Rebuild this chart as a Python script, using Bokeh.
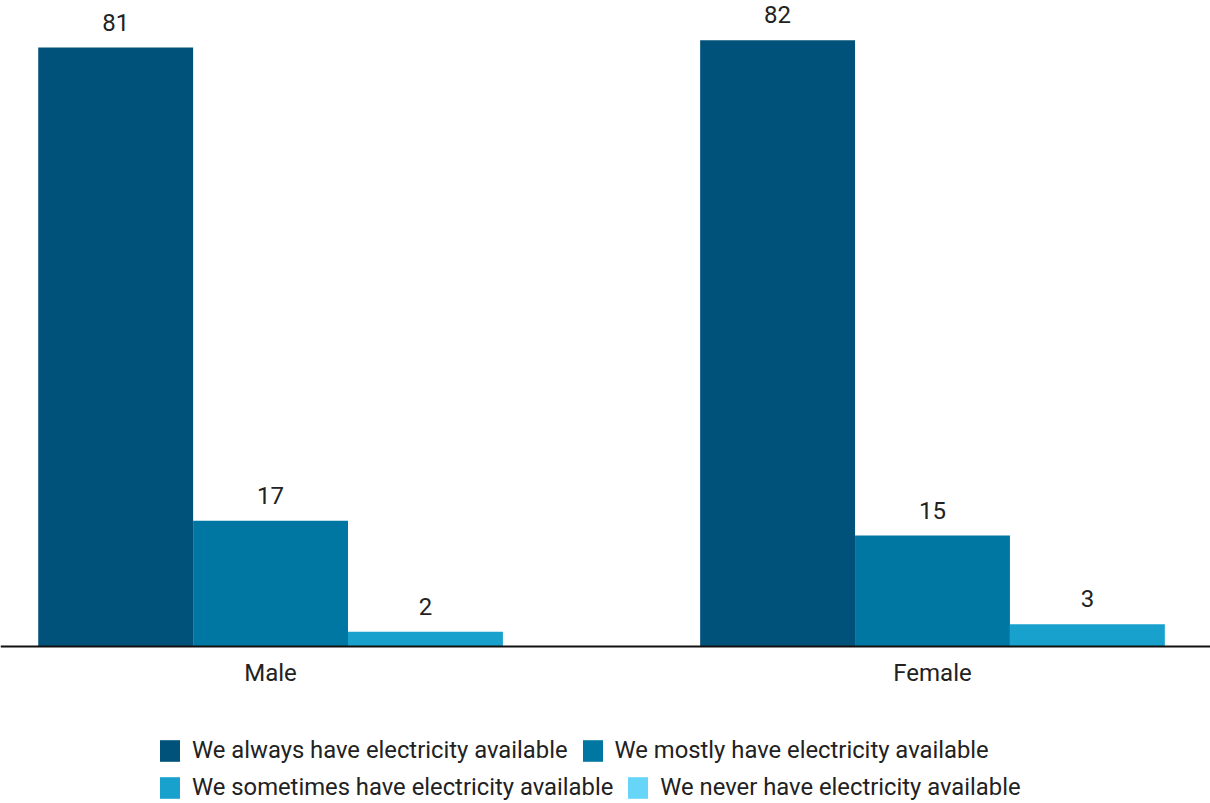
from bokeh.plotting import figure
from bokeh.models import ColumnDataSource, LabelSet, Legend, LegendItem
from bokeh.core.properties import value
from bokeh.embed import file_html
from bokeh.resources import INLINE

categories = ["Male", "Female"]
always = [81, 82]
mostly = [17, 15]
sometimes = [2, 3]
never = [0, 0]
series_names = [
    "We always have electricity available",
    "We mostly have electricity available",
    "We sometimes have electricity available",
    "We never have electricity available",
]
colors = ["#01527a", "#0077a2", "#18a1cd", "#67d5f8"]

FONT = "Roboto"
xs = list(range(len(categories)))
bw = 0.234
offsets = [-bw, 0.0, bw]

p = figure(width=1210, height=803, output_backend="svg", toolbar_location=None,
           x_range=(-0.408, 1.420), y_range=(-21.23, 87.36),
           min_border_left=0, min_border_right=0, min_border_top=0, min_border_bottom=0)
p.outline_line_color = None
p.grid.visible = False
p.yaxis.visible = False

renderers = []
for vals, off, col in zip([always, mostly, sometimes], offsets, colors[:3]):
    src = ColumnDataSource(dict(x=[x + off for x in xs], top=vals, lab=[str(v) for v in vals]))
    r = p.vbar(x="x", top="top", width=bw, source=src, fill_color=col, line_color=None)
    renderers.append(r)
    p.add_layout(LabelSet(x="x", y="top", text="lab", source=src, text_align="center",
                          text_baseline="bottom", y_offset=17, text_font=value(FONT),
                          text_font_size="24px", text_color="#222222"))
src_n = ColumnDataSource(dict(x=[x + 2 * bw for x in xs], top=never))
r_n = p.vbar(x="x", top="top", width=bw, source=src_n, fill_color=colors[3], line_color=None)
renderers.append(r_n)

p.xaxis.fixed_location = 0
p.xaxis.ticker = xs
p.xaxis.major_label_overrides = {i: c for i, c in enumerate(categories)}
p.xaxis.major_tick_line_color = None
p.xaxis.minor_tick_line_color = None
p.xaxis.axis_line_color = "#111111"
p.xaxis.axis_line_width = 2
p.xaxis.major_label_text_font = FONT
p.xaxis.major_label_text_font_size = "24px"
p.xaxis.major_label_text_color = "#222222"
p.xaxis.major_label_standoff = 6

def make_legend(items, loc):
    lg = Legend(items=items, location=loc, orientation="horizontal",
                label_text_font=FONT, label_text_font_size="23.8px", label_text_color="#222222",
                glyph_width=25, glyph_height=27, label_height=27, label_standoff=10, spacing=12,
                padding=0, margin=0, border_line_color=None, background_fill_alpha=0)
    p.add_layout(lg, "center")

make_legend([LegendItem(label=series_names[0], renderers=[renderers[0]]),
             LegendItem(label=series_names[1], renderers=[renderers[1]])], (157, 39))
make_legend([LegendItem(label=series_names[2], renderers=[renderers[2]]),
             LegendItem(label=series_names[3], renderers=[renderers[3]])], (157, 2))

open("out.html", "w").write(file_html(p, INLINE))
